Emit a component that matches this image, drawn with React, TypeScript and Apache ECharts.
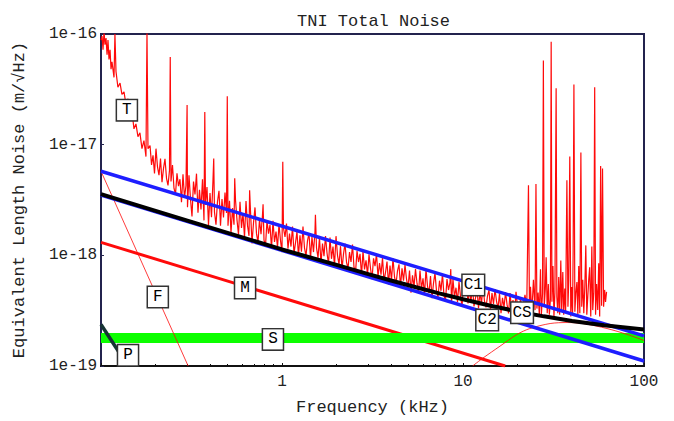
import React, { useEffect, useRef } from 'react';
import * as echarts from 'echarts';

const FONT = '"Liberation Mono", "DejaVu Sans Mono", monospace';
const NAVY = '#23234e';
const RED = '#ff0a0a';
const BLUE = '#1e1eff';
const GREEN = '#0cff00';

const traceT: [number, number][] = [
  [0.100, 8.8e-17], [0.1013, 9.6e-17], [0.1026, 7.2e-17], [0.1039, 1.05e-16], [0.1052, 8.0e-17],
  [0.1066, 9.2e-17], [0.1080, 6.5e-17], [0.1093, 8.8e-17], [0.1107, 5.9e-17], [0.1122, 7.2e-17],
  [0.1136, 4.8e-17], [0.1150, 5.6e-17], [0.1180, 4.05e-17], [0.1194, 1.0e-16], [0.1210, 4.6e-17],
  [0.1240, 3.3e-17], [0.1274, 3.6e-17], [0.1305, 2.85e-17], [0.1340, 3.0e-17], [0.1374, 2.3e-17],
  [0.1410, 2.6e-17], [0.1445, 1.78e-17], [0.1483, 2.0e-17], [0.1521, 1.39e-17], [0.1560, 1.54e-17],
  [0.1600, 1.18e-17], [0.1641, 1.28e-17], [0.1684, 9.2e-18], [0.1727, 1.09e-17], [0.1772, 7.8e-18],
  [0.1795, 1.05e-16], [0.1818, 9.2e-18],
  [0.1866, 9.8e-18], [0.1902, 6.56e-18], [0.1938, 8.0e-18], [0.1975, 5.5e-18], [0.2013, 9.2e-18],
  [0.2052, 6.3e-18], [0.2091, 5.3e-18], [0.2132, 7.5e-18], [0.2173, 4.58e-18], [0.2215, 6.1e-18],
  [0.2257, 7.45e-18], [0.2301, 4.97e-18], [0.2345, 4.28e-18], [0.2390, 5.86e-18], [0.2413, 6.2e-17],
  [0.2436, 4.65e-18], [0.2483, 6.56e-18], [0.2531, 4.02e-18], [0.2580, 3.57e-18], [0.2629, 5.5e-18],
  [0.2680, 4.22e-18], [0.2731, 4.87e-18], [0.2784, 3.02e-18], [0.2838, 5.41e-18], [0.2893, 3.31e-18],
  [0.2948, 4.28e-18], [0.2990, 2.28e-17], [0.3005, 2.72e-18], [0.3063, 5.3e-18], [0.3122, 3.23e-18],
  [0.3182, 2.25e-18], [0.3244, 4.64e-18], [0.3306, 3.55e-18], [0.3370, 5.47e-18], [0.3434, 2.43e-18],
  [0.3501, 3.91e-18], [0.3568, 2.6e-18], [0.3637, 4.86e-18], [0.3707, 2.07e-18], [0.3745, 1.97e-17],
  [0.3779, 2.86e-18], [0.3851, 4.15e-18], [0.3926, 1.87e-18], [0.4001, 3.66e-18], [0.4078, 2.21e-18],
  [0.4156, 4.76e-18], [0.4196, 7.5e-18], [0.4236, 2.46e-18], [0.4318, 1.89e-18], [0.4401, 3.05e-18],
  [0.4486, 3.83e-18], [0.4573, 1.85e-18], [0.4661, 3.23e-18], [0.4751, 2.2e-18], [0.4843, 3.69e-18],
  [0.4936, 2.41e-18], [0.4985, 2.74e-17], [0.5031, 1.85e-18], [0.5128, 3.11e-18], [0.5227, 1.59e-18],
  [0.5328, 2.67e-18], [0.5430, 1.89e-18], [0.5480, 4.97e-18], [0.5535, 3.16e-18], [0.5642, 2.08e-18],
  [0.5750, 1.54e-18], [0.5861, 3.04e-18], [0.5974, 1.77e-18], [0.6089, 2.4e-18], [0.6207, 1.45e-18],
  [0.6326, 3.1e-18], [0.6448, 1.86e-18], [0.6572, 1.5e-18], [0.6624, 3.88e-18], [0.6699, 2.5e-18],
  [0.6828, 1.28e-18], [0.6960, 1.97e-18], [0.7093, 2.71e-18], [0.7230, 1.57e-18], [0.7369, 1.31e-18],
  [0.7511, 2.11e-18], [0.7656, 1.55e-18], [0.7803, 2.33e-18], [0.7860, 2.9e-18], [0.7954, 1.37e-18],
  [0.8107, 1.22e-18], [0.8263, 2.06e-18], [0.8422, 1.57e-18], [0.8584, 1.89e-18], [0.8750, 1.15e-18],
  [0.8918, 2.05e-18], [0.9091, 1.32e-18], [0.9266, 1.64e-18], [0.9444, 1.18e-18], [0.9625, 1.91e-18],
  [0.9811, 1.36e-18], [1.000, 1.07e-18], [1.010, 7.0e-18], [1.019, 1.76e-18], [1.039, 1.47e-18],
  [1.059, 1.94e-18], [1.079, 1.15e-18], [1.100, 1.57e-18], [1.121, 1.2e-18], [1.143, 1.82e-18],
  [1.165, 1.04e-18], [1.187, 1.29e-18], [1.210, 1.64e-18], [1.233, 9.8e-19], [1.257, 1.52e-18],
  [1.281, 1.08e-18], [1.306, 1.82e-18], [1.331, 1.17e-18], [1.357, 9.9e-19], [1.383, 1.35e-18],
  [1.410, 1.59e-18], [1.437, 9.3e-19], [1.464, 1.47e-18], [1.493, 1.07e-18], [1.521, 1.63e-18],
  [1.530, 2.32e-18], [1.551, 1.17e-18], [1.581, 9.5e-19], [1.611, 1.45e-18], [1.642, 8.4e-19],
  [1.674, 1.28e-18], [1.706, 9.8e-19], [1.739, 1.49e-18], [1.773, 1.05e-18], [1.807, 8.3e-19],
  [1.842, 1.45e-18], [1.877, 9.3e-19], [1.913, 1.2e-18], [1.950, 8.0e-19], [1.988, 1.49e-18],
  [2.026, 1.0e-18], [2.065, 8.3e-19], [2.105, 1.21e-18], [2.146, 7.55e-19], [2.187, 1.03e-18],
  [2.229, 1.28e-18], [2.272, 8.7e-19], [2.316, 7.6e-19], [2.361, 1.07e-18], [2.406, 8.7e-19],
  [2.452, 1.25e-18], [2.499, 7.8e-19], [2.548, 7.0e-19], [2.597, 1.1e-18], [2.647, 8.7e-19],
  [2.698, 1.03e-18], [2.750, 6.6e-19], [2.803, 1.09e-18], [2.857, 7.45e-19], [2.912, 9.0e-19],
  [2.968, 6.7e-19], [3.025, 1.02e-18], [3.084, 7.6e-19], [3.143, 6.1e-19], [3.204, 9.4e-19],
  [3.265, 8.0e-19], [3.328, 1.03e-18], [3.392, 6.4e-19], [3.458, 8.5e-19], [3.524, 6.7e-19],
  [3.592, 9.5e-19], [3.661, 5.84e-19], [3.732, 7.0e-19], [3.803, 8.8e-19], [3.877, 5.45e-19],
  [3.951, 8.1e-19], [4.027, 6.0e-19], [4.105, 9.4e-19], [4.184, 6.4e-19], [4.264, 5.5e-19],
  [4.347, 7.25e-19], [4.430, 8.3e-19], [4.515, 5.2e-19], [4.603, 7.65e-19], [4.691, 5.9e-19],
  [4.782, 8.2e-19], [4.874, 6.1e-19], [4.968, 5.1e-19], [5.064, 7.3e-19], [5.161, 4.6e-19],
  [5.261, 6.6e-19], [5.362, 5.2e-19], [5.465, 7.5e-19], [5.570, 5.6e-19], [5.678, 4.55e-19],
  [5.787, 7.3e-19], [5.898, 4.98e-19], [6.012, 6.2e-19], [6.128, 4.4e-19], [6.246, 7.5e-19],
  [6.366, 5.28e-19], [6.489, 4.55e-19], [6.614, 6.5e-19], [6.741, 4.1e-19], [6.871, 5.6e-19],
  [7.003, 6.9e-19], [7.138, 4.77e-19], [7.276, 4.2e-19], [7.416, 5.9e-19], [7.558, 4.78e-19],
  [7.704, 6.8e-19], [7.852, 4.3e-19], [8.004, 3.9e-19], [8.157, 6.1e-19], [8.315, 4.86e-19],
  [8.475, 5.7e-19], [8.56, 7.5e-19], [8.638, 3.7e-19], [8.804, 6.1e-19], [8.974, 4.2e-19],
  [9.146, 5.1e-19], [9.323, 3.78e-19], [9.504, 5.77e-19], [9.687, 4.28e-19], [9.874, 3.46e-19],
  [10.06, 5.3e-19], [10.26, 4.56e-19], [10.46, 5.9e-19], [10.66, 3.68e-19], [10.86, 4.86e-19],
  [11.07, 3.86e-19], [11.28, 5.3e-19], [11.50, 3.45e-19], [11.72, 4.1e-19], [11.95, 4.96e-19],
  [12.18, 3.32e-19], [12.41, 4.68e-19], [12.65, 3.63e-19], [12.90, 5.36e-19], [13.15, 3.83e-19],
  [13.40, 3.38e-19], [13.66, 4.3e-19], [13.92, 4.85e-19], [14.19, 3.24e-19], [14.46, 4.56e-19],
  [14.74, 3.63e-19], [15.03, 4.96e-19], [15.32, 3.83e-19], [15.61, 3.3e-19], [15.91, 4.53e-19],
  [16.22, 3.0e-19], [16.53, 4.14e-19], [16.85, 3.38e-19], [17.18, 4.65e-19], [17.51, 3.6e-19],
  [17.85, 2.98e-19], [18.19, 4.56e-19], [18.54, 3.28e-19], [18.89, 3.95e-19], [19.26, 2.92e-19],
  [19.63, 4.68e-19], [20.01, 3.43e-19], [20.39, 3.0e-19], [20.79, 4.14e-19], [21.18, 2.78e-19],
  [21.59, 3.63e-19], [22.00, 4.4e-19],
  [22.5, 3.43e-19], [23.0, 4.3e-18], [23.3, 3.1e-19], [23.6, 5.2e-19], [24.0, 3.0e-19],
  [24.5, 6.0e-19], [25.0, 3.2e-19], [25.3, 4.4e-18], [25.6, 3.3e-19], [26.0, 4.6e-19],
  [26.4, 2.9e-19], [26.8, 7.5e-19], [27.1, 2.9e-19], [27.5, 4.5e-19], [27.8, 5.75e-17],
  [28.1, 3.43e-19], [28.5, 5.0e-19], [28.8, 9.6e-19], [29.2, 3.0e-19], [29.6, 5.5e-19],
  [30.0, 2.9e-19], [30.4, 4.0e-19], [30.7, 8.5e-17], [31.0, 3.8e-19], [31.4, 8.0e-19],
  [31.8, 2.8e-19], [32.2, 4.6e-19], [32.7, 3.23e-17], [33.0, 4.2e-19], [33.4, 3.0e-19],
  [33.8, 6.36e-19], [34.2, 2.9e-19], [34.7, 9.0e-19], [35.1, 3.2e-19], [35.6, 7.05e-19],
  [36.0, 2.9e-19], [36.5, 5.0e-19], [36.9, 3.1e-19], [37.5, 4.77e-18], [38.0, 3.43e-19],
  [38.4, 6.0e-19], [38.9, 7.8e-18], [39.4, 2.8e-19], [39.9, 5.18e-19], [40.3, 3.0e-19],
  [40.6, 1.1e-18], [41.0, 3.5e-17], [41.5, 3.1e-19], [42.0, 4.5e-19], [42.6, 5.74e-19],
  [43.1, 2.9e-19], [43.6, 8.0e-19], [44.2, 3.0e-19], [44.8, 8.5e-18], [45.3, 3.43e-19],
  [45.9, 6.0e-19], [46.5, 3.0e-19], [47.1, 5.2e-19], [47.7, 1.23e-18], [48.3, 2.9e-19],
  [48.9, 4.2e-19], [49.5, 6.0e-19], [50.1, 7.8e-19], [50.8, 2.8e-19], [51.5, 1.2e-18],
  [52.1, 3.2e-19], [52.8, 4.67e-19], [53.4, 3.3e-17], [54.0, 2.9e-19], [54.7, 5.5e-19],
  [55.5, 3.2e-19], [56.2, 8.5e-19], [56.9, 2.8e-19], [57.6, 6.4e-18], [58.3, 3.5e-19],
  [59.0, 6.1e-18], [59.8, 3.43e-19], [60.6, 4.87e-19], [61.3, 3.8e-19], [62.1, 4.67e-19],
];

// Model curves
const lineC1: [number, number][] = [[0.1, 5.75e-18], [100, 1.87e-19]];
const lineC2: [number, number][] = [[0.1, 3.5e-18], [100, 1.11e-19]];
const lineM: [number, number][] = [[0.1, 1.31e-18], [17.1, 1.0e-19]];
const lineF: [number, number][] = [[0.1, 5.75e-18], [0.303, 1.0e-19]];
const lineP: [number, number][] = [[0.1, 2.37e-19], [0.141, 1.0e-19]];
const lineS: [number, number][] = [[0.1, 1.79e-19], [100, 1.79e-19]];
const curveCS: [number, number][] = [
  [11.3, 1.0e-19], [12.9, 1.18e-19], [16.0, 1.51e-19], [19.9, 1.93e-19], [23.4, 2.18e-19],
  [30.3, 2.42e-19], [37.6, 2.47e-19], [46.0, 2.42e-19], [62.5, 2.18e-19], [80.6, 1.93e-19],
  [100, 1.7e-19],
];
const curveTotal: [number, number][] = [
  [0.1, 3.57e-18], [0.3, 2.06e-18], [1, 1.13e-18], [2, 8.19e-19], [3, 6.76e-19], [4, 5.93e-19],
  [5.5, 5.15e-19], [7.3, 4.56e-19], [10, 4.01e-19], [14, 3.52e-19], [20, 3.11e-19], [28, 2.81e-19],
  [40, 2.55e-19], [60, 2.33e-19], [100, 2.14e-19],
];

// Curve labels
const labelTexts = ['T', 'F', 'M', 'S', 'P', 'C1', 'C2', 'CS'];
const labelFreqs = [0.139, 0.206, 0.625, 0.891, 0.141, 11.4, 13.6, 21.2];
const labelValues = [2.05e-17, 4.2e-19, 5.07e-19, 1.74e-19, 1.25e-19, 5.4e-19, 2.6e-19, 3.03e-19];

const lineSeries = (data: [number, number][], color: string, width: number, extra: any = {}) => ({
  type: 'line',
  data,
  symbol: 'none',
  showSymbol: false,
  silent: true,
  clip: true,
  lineStyle: { color, width },
  emphasis: { disabled: true },
  ...extra,
});

export default function App() {
  const ref = useRef<HTMLDivElement>(null);
  useEffect(() => {
    document.body.style.margin = '0';
    const chart = echarts.init(ref.current!, null, { renderer: 'svg' });
    const axisText = { fontFamily: FONT, fontSize: 16, color: '#222' };
    chart.setOption({
      animation: false,
      backgroundColor: '#fff',
      title: {
        text: 'TNI Total Noise',
        left: 292,
        top: 8,
        textStyle: { fontFamily: FONT, fontSize: 17, fontWeight: 'normal', color: '#222' },
      },
      grid: { left: 101, right: 30, top: 34, bottom: 51, show: true, borderColor: NAVY, borderWidth: 2 },
      xAxis: {
        type: 'log',
        logBase: 10,
        min: 0.1,
        max: 100,
        name: 'Frequency (kHz)',
        nameLocation: 'middle',
        nameGap: 33,
        nameTextStyle: { fontFamily: FONT, fontSize: 17, color: '#222' },
        axisLine: { show: true, lineStyle: { color: '#111', width: 2 } },
        axisTick: { show: true, inside: true, length: 3, lineStyle: { color: '#111', width: 1 } },
        minorTick: { show: true, splitNumber: 9, length: 2, lineStyle: { color: '#111', width: 1 } },
        axisLabel: {
          ...axisText,
          margin: 8,
          showMinLabel: true,
          showMaxLabel: true,
          formatter: (v: number) => (v < 0.5 ? '' : String(Math.round(v))),
        },
        splitLine: { show: false },
        minorSplitLine: { show: false },
      },
      yAxis: {
        type: 'log',
        logBase: 10,
        min: 1e-19,
        max: 1e-16,
        name: 'Equivalent Length Noise (m/\u221AHz)',
        nameLocation: 'middle',
        nameGap: 73,
        nameTextStyle: { fontFamily: FONT, fontSize: 17, color: '#222' },
        axisLine: { show: true, lineStyle: { color: NAVY, width: 2 } },
        axisTick: { show: true, inside: true, length: 3, lineStyle: { color: NAVY, width: 1 } },
        axisLabel: {
          ...axisText,
          margin: 4,
          showMinLabel: true,
          showMaxLabel: true,
          formatter: (v: number) => '1e' + Math.round(Math.log10(v)),
        },
        splitLine: { show: false },
      },
      series: [
        lineSeries(lineM, RED, 3),
        lineSeries(lineS, GREEN, 10),
        lineSeries(lineF, RED, 0.8),
        lineSeries(curveCS, RED, 0.8, { smooth: 0.3 }),
        lineSeries(traceT, RED, 1.2),
        lineSeries(lineC2, BLUE, 3.5),
        lineSeries(lineC1, BLUE, 3.5),
        lineSeries(curveTotal, '#000', 4),
        lineSeries(lineP, '#163434', 3.5),
        {
          type: 'scatter',
          silent: true,
          symbolSize: 1,
          itemStyle: { color: 'rgba(0,0,0,0)', opacity: 1 },
          data: labelTexts.map((t, i) => ({
            name: t,
            value: [labelFreqs[i], labelValues[i]],
            label: { padding: t.length > 1 ? [2, 1, 2, 1] : [2, 5, 2, 5] },
          })),
          label: {
            show: true,
            position: 'inside',
            formatter: '{b}',
            fontFamily: FONT,
            fontSize: 16,
            lineHeight: 16,
            color: '#000',
            opacity: 1,
            backgroundColor: '#fff',
            borderColor: '#333',
            borderWidth: 1.5,
          },
          z: 10,
        },
      ],
    });
    return () => chart.dispose();
  }, []);
  return <div ref={ref} style={{ width: 674, height: 421 }} />;
}
